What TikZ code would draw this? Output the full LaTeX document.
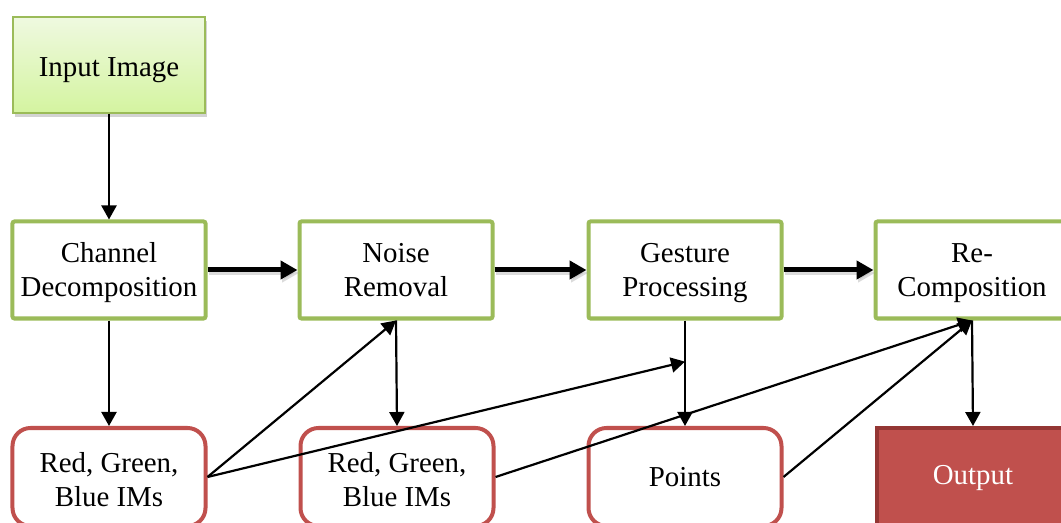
\documentclass[tikz,border=0pt]{standalone}
\usepackage{fontspec}
\setmainfont{Liberation Serif}
\usetikzlibrary{arrows.meta,calc,shadows}
\definecolor{gborder}{HTML}{9BBB59}
\definecolor{rborder}{HTML}{C0504D}
\definecolor{outfill}{HTML}{C0504D}
\definecolor{outdraw}{HTML}{943634}
\definecolor{intop}{HTML}{EFF9E0}
\definecolor{inbot}{HTML}{D4F4A0}
\newcommand{\boxtext}[2][-3bp]{\raisebox{#1}[\height][\depth]{\begin{tabular}{@{}c@{}}#2\end{tabular}}}
\begin{document}
\begin{tikzpicture}[x=1bp,y=-1bp,
  base/.style={minimum width=193bp, minimum height=97bp, inner sep=0pt,
    font=\fontsize{29}{34}\selectfont},
  gbox/.style={base, draw=gborder, line width=4bp, fill=white, rounded corners=2bp},
  rbox/.style={base, draw=rborder, line width=4bp, fill=white, rounded corners=18bp, minimum height=98bp},
  inbox/.style={base, draw=gborder, line width=1.5bp, top color=intop, bottom color=inbot,
    minimum width=192bp, minimum height=96bp,
    drop shadow={opacity=0.35, shadow xshift=2bp, shadow yshift=-4bp}},
  outbox/.style={base, draw=outdraw, line width=4bp, fill=outfill, text=white, minimum height=98bp},
  thin/.style={line width=2.2bp, -{Triangle[length=14bp,width=15bp]}},
  thick/.style={line width=5bp, -{Triangle[length=17bp,width=18bp]},
    preaction={draw=black!35, opacity=0.4, line width=5bp, transform canvas={xshift=1.5bp,yshift=-3bp}}},
]
\useasboundingbox (0,0) rectangle (1061,523);
\clip (0,0) rectangle (1061,523);

\node[inbox] (inp) at (109,65) {\boxtext[-5bp]{Input Image}};

\node[gbox] (cd) at (109,270) {\boxtext{Channel\\Decomposition}};
\node[gbox] (nr) at (396,270) {\boxtext{Noise\\Removal}};
\node[gbox] (gp) at (685,270) {\boxtext{Gesture\\Processing}};
\node[gbox] (rc) at (972,270) {\boxtext{Re-\\Composition}};

\node[rbox] (r1) at (109,477) {\boxtext[-6bp]{Red, Green,\\Blue IMs}};
\node[rbox] (r2) at (397,477) {\boxtext[-6bp]{Red, Green,\\Blue IMs}};
\node[rbox] (pts) at (685,477) {\boxtext{Points}};
\node[outbox] (out) at (973,477) {\boxtext[-1bp]{Output}};

\draw[thin] (inp) -- (cd);
\draw[thick] (cd) -- (nr);
\draw[thick] (nr) -- (gp);
\draw[thick] (gp) -- (rc);

\draw[thin] (cd) -- (r1);
\draw[thin] (nr.south) -- (r2.north);
\draw[thin] (gp.south) -- (pts.north);
\draw[thin] (rc.south) -- (out.north);

\coordinate (gpmid) at ($(gp.south)!0.39!(pts.north)$);
\draw[thin] (r1.east) -- (nr.south);
\draw[thin] (r1.east) -- (gpmid);
\draw[thin] (r2.east) -- (rc.south);
\draw[thin] (pts.east) -- (rc.south);
\end{tikzpicture}
\end{document}
